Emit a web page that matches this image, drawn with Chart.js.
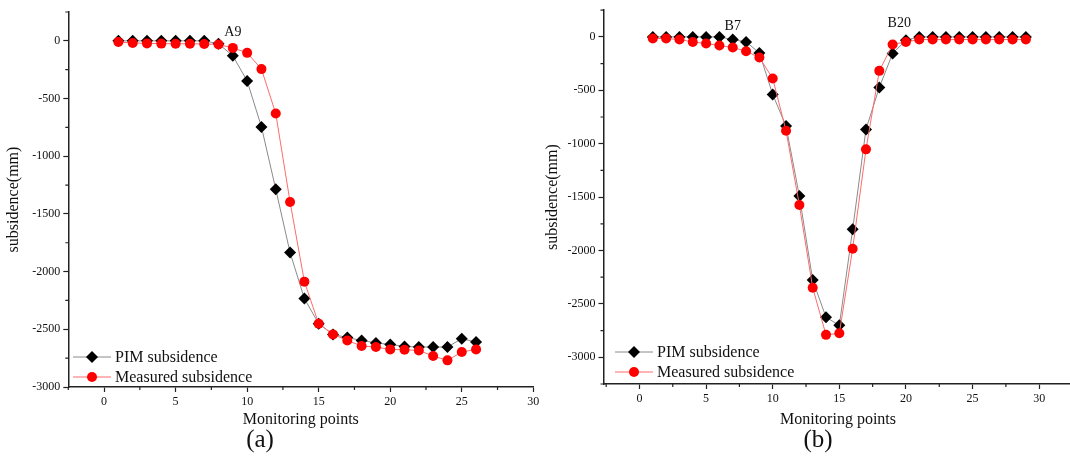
<!DOCTYPE html>
<html>
<head>
<meta charset="utf-8">
<script src="https://cdn.jsdelivr.net/npm/chart.js@4.4.1/dist/chart.umd.min.js"></script>
<style>
  html, body { margin: 0; padding: 0; background: #fff; width: 1070px; height: 459px; overflow: hidden; }
  canvas { position: absolute; top: 0; }
  #chartA { left: 0; }
  #chartB { left: 540px; }
  .cap { position: absolute; top: 425px; font: 25px "Liberation Serif", serif; color: #111; transform: translateX(-50%); }
</style>
</head>
<body>
<canvas id="chartA" width="545" height="459"></canvas>
<canvas id="chartB" width="540" height="459"></canvas>
<div class="cap" style="left:260px">(a)</div>
<div class="cap" style="left:818px">(b)</div>
<script>
// chart (a)
const pointsA = [1, 2, 3, 4, 5, 6, 7, 8, 9, 10, 11, 12, 13, 14, 15, 16, 17, 18, 19, 20, 21, 22, 23, 24, 25, 26];
const pimA = [0, 0, 0, 0, 0, 0, 0, -25, -130, -347, -746, -1286, -1835, -2234, -2451, -2544, -2572, -2596, -2619, -2631, -2648, -2654, -2654, -2654, -2581, -2611];
const measuredA = [-10, -18, -22, -24, -25, -25, -27, -32, -61, -104, -245, -630, -1396, -2087, -2451, -2544, -2596, -2645, -2654, -2674, -2677, -2683, -2732, -2769, -2697, -2674];

// chart (b)
const pointsB = [1, 2, 3, 4, 5, 6, 7, 8, 9, 10, 11, 12, 13, 14, 15, 16, 17, 18, 19, 20, 21, 22, 23, 24, 25, 26, 27, 28, 29];
const pimB = [0, 0, 0, 0, 0, 0, -25, -47, -150, -539, -835, -1490, -2276, -2625, -2700, -1802, -866, -473, -155, -31, 0, 0, 0, 0, 0, 0, 0, 0, 0];
const measuredB = [-15, -15, -25, -47, -62, -81, -99, -134, -193, -389, -879, -1574, -2348, -2790, -2775, -1983, -1053, -318, -71, -47, -25, -25, -25, -25, -25, -25, -25, -25, -25];

// axes
const xTicks = [0, 5, 10, 15, 20, 25, 30];
const xMinor = [-2.5, 2.5, 7.5, 12.5, 17.5, 22.5, 27.5, 32.5];
const yTicks = [0, -500, -1000, -1500, -2000, -2500, -3000];
const yMinor = [250, -250, -750, -1250, -1750, -2250, -2750, -3250];

// text labels on the plots
const notesA = [{ text: "A9", x: 9, y: 75 }];
const notesB = [{ text: "B7", x: 7, y: 100 }, { text: "B20", x: 19.5, y: 128 }];

const seriesNames = ["PIM subsidence", "Measured subsidence"];
const serif = "'Liberation Serif', 'Times New Roman', serif";
const axisColor = "#222";

const extras = {
    id: "extras",
    afterDraw(chart, args, opts) {
        const { ctx, scales: { x, y } } = chart;
        ctx.save();
        // minor ticks
        ctx.strokeStyle = axisColor;
        ctx.lineWidth = 1.2;
        ctx.beginPath();
        xMinor.filter(v => v >= x.min && v <= x.max).forEach(v => {
            const px = x.getPixelForValue(v);
            ctx.moveTo(px, y.bottom);
            ctx.lineTo(px, y.bottom + 3);
        });
        yMinor.filter(v => v >= y.min && v <= y.max).forEach(v => {
            const py = y.getPixelForValue(v);
            ctx.moveTo(x.left, py);
            ctx.lineTo(x.left - 3, py);
        });
        ctx.stroke();

        // notes
        ctx.fillStyle = "#111";
        ctx.font = "14px " + serif;
        ctx.textAlign = "center";
        ctx.textBaseline = "middle";
        opts.notes.forEach(n => ctx.fillText(n.text, x.getPixelForValue(n.x), y.getPixelForValue(n.y)));

        // legend inside the plot, bottom-left
        ctx.font = "16px " + serif;
        ctx.textAlign = "left";
        chart.data.datasets.forEach((ds, i) => {
            const ly = opts.legendY + i * 20;
            const lx = opts.legendX;
            ctx.strokeStyle = ds.borderColor;
            ctx.lineWidth = 1;
            ctx.beginPath();
            ctx.moveTo(lx, ly);
            ctx.lineTo(lx + 38, ly);
            ctx.stroke();
            ctx.fillStyle = ds.pointBackgroundColor;
            ctx.strokeStyle = ds.pointBackgroundColor;
            Chart.helpers.drawPoint(ctx, { pointStyle: ds.pointStyle, radius: ds.pointRadius, rotation: 0, borderWidth: 0 }, lx + 19, ly);
            ctx.fillStyle = "#111";
            ctx.fillText(ds.label, lx + 42, ly + 1);
        });
        ctx.restore();
    }
};

function makeChart(id, points, pim, measured, setup) {
    return new Chart(document.getElementById(id), {
        type: "line",
        data: {
            datasets: [
                {
                    label: seriesNames[0],
                    data: points.map((p, i) => ({ x: p, y: pim[i] })),
                    borderColor: "#8a8a8a",
                    borderWidth: 1,
                    pointStyle: "rectRot",
                    pointRadius: 6,
                    pointBackgroundColor: "#000",
                    pointBorderWidth: 0,
                    order: 1
                },
                {
                    label: seriesNames[1],
                    data: points.map((p, i) => ({ x: p, y: measured[i] })),
                    borderColor: "#ff6b6b",
                    borderWidth: 1,
                    pointStyle: "circle",
                    pointRadius: 5,
                    pointBackgroundColor: "#ff0000",
                    pointBorderWidth: 0,
                    order: 0
                }
            ]
        },
        options: {
            responsive: false,
            animation: false,
            layout: { padding: { top: setup.top, right: setup.right, left: 0, bottom: 0 } },
            plugins: {
                legend: { display: false },
                tooltip: { enabled: false },
                extras: { notes: setup.notes, legendX: setup.legendX, legendY: setup.legendY }
            },
            scales: {
                x: {
                    type: "linear",
                    min: setup.xMin,
                    max: setup.xMax,
                    afterFit: s => { s.height = setup.xHeight; },
                    afterBuildTicks: s => { s.ticks = xTicks.map(v => ({ value: v })); },
                    border: { color: axisColor, width: 1.5 },
                    grid: { drawOnChartArea: false, tickLength: 5, tickColor: axisColor, tickWidth: 1.2 },
                    ticks: { color: "#111", font: { family: serif, size: 12 }, padding: 3, maxRotation: 0, callback: v => String(v) },
                    title: { display: true, text: "Monitoring points", color: "#111", font: { family: serif, size: 16 }, padding: { top: 0, bottom: 30 } }
                },
                y: {
                    type: "linear",
                    min: setup.yMin,
                    max: 250,
                    afterFit: s => { s.width = setup.yWidth; },
                    afterBuildTicks: s => { s.ticks = yTicks.map(v => ({ value: v })); },
                    border: { color: axisColor, width: 1.5 },
                    grid: { drawOnChartArea: false, tickLength: 5, tickColor: axisColor, tickWidth: 1.2 },
                    ticks: { color: "#111", font: { family: serif, size: 12 }, padding: 3, callback: v => String(v) },
                    title: { display: true, text: "subsidence(mm)", color: "#111", font: { family: serif, size: 16 }, padding: { top: setup.titlePad, bottom: 0 } }
                }
            }
        },
        plugins: [extras]
    });
}

makeChart("chartA", pointsA, pimA, measuredA, {
    top: 12, right: 11.7, xHeight: 72, yWidth: 68.3, xMin: -2.5, xMax: 30, yMin: -3000,
    titlePad: 4, notes: notesA, legendX: 73, legendY: 357
});

makeChart("chartB", pointsB, pimB, measuredB, {
    top: 10, right: 7.5, xHeight: 75, yWidth: 63.5, xMin: -2.7, xMax: 32.5, yMin: -3250,
    titlePad: 3, notes: notesB, legendX: 75, legendY: 352
});
</script>
</body>
</html>
